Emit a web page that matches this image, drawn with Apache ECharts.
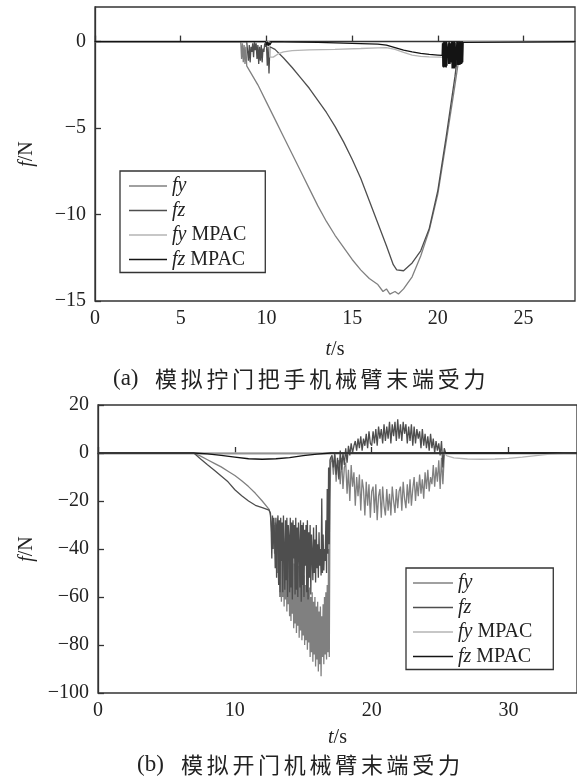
<!DOCTYPE html>
<html>
<head>
<meta charset="utf-8">
<script src="https://cdn.jsdelivr.net/npm/echarts@6/dist/echarts.min.js"></script>
<style>
  html, body { margin: 0; padding: 0; background: #fff; }
  #chart { width: 577px; height: 780px; }
</style>
</head>
<body>
<div id="chart"></div>
<script>
const names = ['fy', 'fz', 'fy MPAC', 'fz MPAC']
const colors = ['#808080', '#4e4e4e', '#b4b4b4', '#141414']

// (a) door handle: [t, f] points
const aFy = [[0, 0], [8.5, 0], [8.55, -1.0], [8.6, -0.1], [8.65, -1.2], [8.7, -0.2], [8.75, -1.3], [8.8, -0.3], [8.85, -1.4],
  [8.9, -1.3], [9.5, -2.5], [10, -3.5], [10.5, -4.5], [11, -5.5], [11.5, -6.5], [12, -7.5], [12.5, -8.5], [13, -9.5],
  [13.5, -10.4], [14, -11.2], [14.5, -11.9], [15, -12.6], [15.5, -13.2], [16, -13.7], [16.5, -14.05], [16.8, -14.45],
  [17, -14.3], [17.2, -14.6], [17.5, -14.45], [17.7, -14.6], [18, -14.3], [18.5, -13.6], [19, -12.4], [19.5, -10.9],
  [20, -8.8], [20.5, -5.7], [21, -2.5], [21.3, -0.5], [21.4, 0], [28, 0]]
const aFz = [[0, 0], [8.85, 0], [10.5, -0.45], [11, -0.95], [11.5, -1.5], [12, -2.1], [12.5, -2.7], [13, -3.4], [13.5, -4.1],
  [14, -4.9], [14.5, -5.8], [15, -6.8], [15.5, -7.9], [16, -9.2], [16.5, -10.5], [17, -11.8], [17.4, -12.9], [17.6, -13.2],
  [18, -13.25], [18.5, -12.8], [19, -12.1], [19.5, -10.8], [20, -8.6], [20.5, -5.4], [21, -2.0], [21.2, -0.4], [21.3, 0], [28, 0]]
const aFzNoise = { t0: 8.9, dt: 0.05, v: [0, -1.1, -0.2, -1.2, -0.3, -0.6, -0.1, -0.9, 0, -0.5, -0.1, -1.0, -0.2, -1.3,
  -0.3, -1.1, -0.2, -1.2, -0.4, -0.6, -0.1, -0.3, -0.1, -1.4, -0.3, -1.85, -0.3] }
const aFyMpac = [[0, 0], [10.15, 0], [10.2, -0.9], [10.4, -0.9], [10.7, -0.7], [11, -0.6], [11.5, -0.52], [12.5, -0.48],
  [14, -0.45], [15.5, -0.4], [16.5, -0.36], [17, -0.35], [17.5, -0.45], [18, -0.62], [18.5, -0.78], [19, -0.85],
  [19.5, -0.88], [20.2, -0.9], [21.3, -0.92], [21.4, -1.3], [21.5, 0], [28, 0]]
const aFzMpac = [[0, 0], [9.95, 0], [11, -0.02], [13, -0.05], [15, -0.1], [16.5, -0.15], [17, -0.2], [17.5, -0.35],
  [18, -0.5], [18.5, -0.6], [19, -0.68], [19.5, -0.74], [20, -0.78], [20.25, -0.8], [21.55, 0], [28, 0]]
const aFzMpacNoise1 = { t0: 10.0, dt: 0.05, v: [-0.2, 0, -0.25, -0.05, -0.2, -0.1, 0] }
const aFzMpacNoise2 = { t0: 20.27, dt: 0.02, v: [-0.1, -1.45, -0.05, -1.5, 0, -1.4, -0.05, -1.48, 0, -1.45,
  -0.1, -1.5, 0, -1.4, -0.8, -0.85, -0.8, -0.1, -1.3, 0,
  -1.25, -0.05, -1.3, -0.1, -1.2, -0.9, -0.9, 0, -1.55, -0.05,
  -1.5, 0, -1.55, -0.1, -1.5, 0, -1.55, -0.05, -1.45, -1.0,
  -1.0, -0.95, 0, -1.35, -0.05, -1.3, 0, -1.35, -0.1, -1.3,
  0, -1.35, -0.05, -1.3, 0, -1.3, -0.1, -1.25, 0, -1.2,
  -0.05, 0] }

// (b) door opening
const bFy = [[0, 0], [7, 0], [7.5, -1.3], [8, -2.8], [8.5, -4.3], [9, -5.8], [9.5, -7.6], [10, -9.4], [10.5, -11.6],
  [11, -14.0], [11.5, -16.8], [12, -20.0], [12.5, -23.5], [25.4, 0], [35, 0]]
const bFyNoise1 = { t0: 12.6, dt: 0.05, v: [-26, -30, -34, -28, -38, -30, -42, -29, -46, -32,
  -50, -31, -55, -34, -58, -33, -62, -36, -60, -35,
  -64, -38, -61, -40, -66, -37, -63, -42, -68, -40,
  -70, -44, -67, -42, -73, -46, -71, -45, -75, -48,
  -72, -47, -77, -50, -74, -49, -78, -52, -76, -51,
  -80, -55, -78, -53, -82, -57, -79, -56, -85, -60,
  -83, -58, -87, -62, -84, -60, -89, -64, -86, -62,
  -91, -66, -88, -64, -93, -68, -85, -63, -88, -60,
  -84, -58, -86, -55, -83, -40, -85, -20, -4] }
const bFyNoise2 = { t0: 17.1, dt: 0.1, v: [-2, -9, -1, -12, -5, -3, -13, -2, -15, -6,
  -4, -17, -7, -20, -5, -14, -8, -22, -10, -18,
  -9, -24, -11, -15, -26, -12, -22, -13, -27, -16,
  -14, -25, -13, -28, -18, -15, -27, -14, -22, -26,
  -15, -24, -17, -26, -14, -20, -25, -15, -23, -16,
  -14, -24, -12, -19, -23, -13, -21, -11, -22, -15,
  -10, -20, -12, -18, -9, -17, -11, -19, -8, -15,
  -7, -16, -10, -13, -5, -14, -6, -12, -3, -15,
  -2, -13, -1] }
const bFz = [[0, 0], [7, 0], [7.5, -2.5], [8, -4.9], [8.5, -7.2], [9, -9.6], [9.5, -12.0], [10, -15.3], [10.5, -17.8],
  [11, -20.0], [11.5, -21.8], [12, -22.8], [12.5, -23.8], [25.4, 0], [35, 0]]
const bFzNoise1 = { t0: 12.6, dt: 0.05, v: [-25, -31, -44, -26, -40, -27, -35, -48, -27, -52,
  -30, -26, -55, -28, -60, -27, -45, -29, -58, -26,
  -40, -57, -28, -53, -27, -60, -30, -35, -58, -27,
  -56, -29, -61, -28, -44, -30, -59, -27, -57, -31,
  -60, -29, -38, -56, -28, -62, -30, -55, -29, -60,
  -32, -47, -30, -58, -28, -61, -33, -52, -30, -59,
  -34, -42, -53, -31, -50, -36, -54, -30, -48, -38,
  -52, -33, -47, -40, -51, -19, -50, -34, -49, -40,
  -45, -28, -50, -15, -42, -6, -38, -3, -2] }
const bFzNoise2 = { t0: 17.1, dt: 0.1, v: [-1, -6, 0, -9, -2, -11, 1, -7, 0, -5,
  2, -4, 3, -1, 4, 0, 3, 5, 1, 6,
  2, 7, 1, 6, 3, 8, 2, 9, 4, 3,
  9, 4, 10, 3, 11, 6, 10, 4, 12, 5,
  11, 6, 13, 4, 12, 7, 13, 5, 14, 6,
  12, 5, 13, 8, 12, 4, 11, 5, 12, 3,
  11, 4, 10, 6, 9, 2, 10, 3, 8, 2,
  7, 1, 8, 2, 6, 0, 5, 1, 4, -1,
  5, -6, 2] }
const bFyMpac = [[0, 0], [25.3, 0], [25.5, -1.2], [26, -2.0], [27, -2.5], [28, -2.6], [29, -2.5], [30, -2.2],
  [31, -1.7], [32, -1.1], [33, -0.5], [34, -0.1], [35, 0]]
const bFzMpac = [[0, 0], [7, 0], [8, -0.4], [9, -1.0], [10, -1.7], [11, -2.4], [12, -2.6], [13, -2.4], [14, -1.9],
  [15, -1.1], [16, -0.5], [17, 0], [35, 0]]

const seg = n => n.v.map((v, i) => [+(n.t0 + i * n.dt).toFixed(3), v])
const joinLine = (pairs, ...noise) => pairs.concat(...noise.map(seg)).sort((p, q) => p[0] - q[0])

const serif = 'Liberation Serif'
const cjk = 'Noto Sans CJK SC'
const ink = '#222'
const minus = v => (v < 0 ? '\u2212' + Math.abs(v) : String(v))
const italic = { fontFamily: serif, fontSize: 20, fontStyle: 'italic', fontWeight: 'normal', color: ink }

function mk (i, data, gi) {
  return {
    name: names[i],
    type: 'line',
    xAxisIndex: gi,
    yAxisIndex: gi,
    data: data,
    symbol: 'none',
    showSymbol: false,
    lineStyle: { width: 1.3, color: colors[i] },
    itemStyle: { color: colors[i] },
    z: 2 + i
  }
}

function xAx (gi, max, interval, gap) {
  return {
    gridIndex: gi, type: 'value', min: 0, max: max, interval: interval,
    name: '{i|t}/s', nameLocation: 'middle', nameGap: gap,
    nameTextStyle: { fontFamily: serif, fontSize: 20, color: ink, rich: { i: italic } },
    axisLine: { show: true, lineStyle: { color: '#333', width: 1.3 } },
    axisTick: { inside: true, length: 6, lineStyle: { color: '#333', width: 1.3 } },
    splitLine: { show: false },
    axisLabel: { fontFamily: serif, fontSize: 20, color: ink, margin: 8, showMaxLabel: false, formatter: minus }
  }
}

function yAx (gi, min, max, interval, gap, hideMax) {
  return {
    gridIndex: gi, type: 'value', min: min, max: max, interval: interval,
    name: '{i|f}/N', nameLocation: 'middle', nameGap: gap,
    nameTextStyle: { fontFamily: serif, fontSize: 20, color: ink, rich: { i: italic } },
    axisLine: { show: true, lineStyle: { color: '#333', width: 1.3 } },
    axisTick: { inside: true, length: 6, lineStyle: { color: '#333', width: 1.3 } },
    splitLine: { show: false },
    axisLabel: { fontFamily: serif, fontSize: 20, color: ink, margin: 9, showMaxLabel: !hideMax, formatter: minus }
  }
}

function legend (left, top, itemWidth, padding) {
  return {
    data: names, orient: 'vertical', left: left, top: top,
    icon: 'rect', itemWidth: itemWidth, itemHeight: 1.6, itemGap: 4.5, padding: padding,
    borderColor: '#333', borderWidth: 1.3, borderRadius: 0,
    formatter: n => n.replace(/^(f[yz])/, '{i|$1}'),
    textStyle: { fontFamily: serif, fontSize: 20, lineHeight: 20, color: ink, rich: { i: italic } }
  }
}

function caption (tag, text, left, top, tagWidth) {
  return {
    left: left, top: top,
    text: '{a|' + tag + '}' + text.split('').map(c => '{c|' + c + '}').join(''),
    textStyle: {
      fontWeight: 'normal',
      rich: {
        a: { fontFamily: serif, fontSize: 23, fontWeight: 'normal', color: ink, width: tagWidth },
        c: { fontFamily: cjk, fontSize: 22, fontWeight: 'normal', color: ink, width: 25.7 }
      }
    }
  }
}

const chart = echarts.init(document.getElementById('chart'))
chart.setOption({
  animation: false,
  backgroundColor: '#fff',
  title: [
    caption('(a)', '模拟拧门把手机械臂末端受力', 108, 362, 42),
    caption('(b)', '模拟开门机械臂末端受力', 132, 748, 44)
  ],
  legend: [legend(120, 171, 38, [5, 19, 3, 9]), legend(406, 568, 40, [5, 21, 3, 7])],
  grid: [
    { left: 95, top: 7, width: 480, height: 294, show: true, borderColor: '#333', borderWidth: 1.3 },
    { left: 98, top: 405, width: 483, height: 288, show: true, borderColor: '#333', borderWidth: 1.3 }
  ],
  xAxis: [xAx(0, 28, 5, 39), xAx(1, 35, 10, 35)],
  yAxis: [yAx(0, -15, 2, 5, 58, true), yAx(1, -100, 20, 20, 60, false)],
  series: [
    mk(0, joinLine(aFy), 0),
    mk(1, joinLine(aFz, aFzNoise), 0),
    mk(2, joinLine(aFyMpac), 0),
    mk(3, joinLine(aFzMpac, aFzMpacNoise1, aFzMpacNoise2), 0),
    mk(0, joinLine(bFy, bFyNoise1, bFyNoise2), 1),
    mk(1, joinLine(bFz, bFzNoise1, bFzNoise2), 1),
    mk(2, joinLine(bFyMpac), 1),
    mk(3, joinLine(bFzMpac), 1)
  ]
})
</script>
</body>
</html>
